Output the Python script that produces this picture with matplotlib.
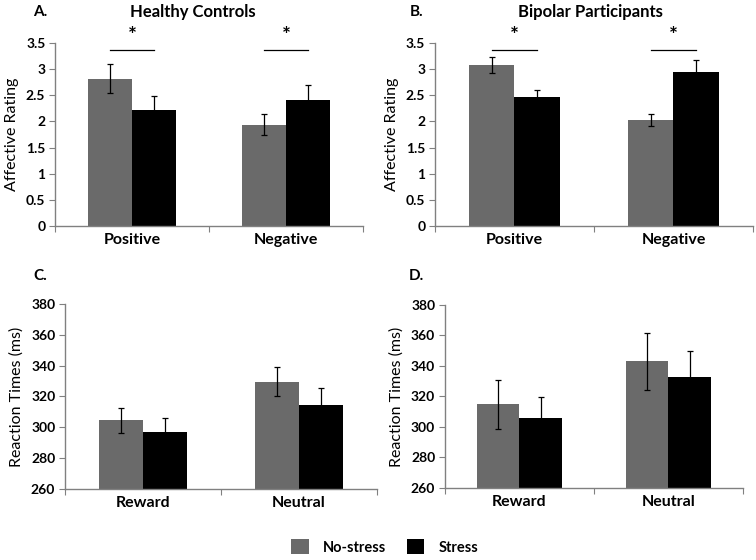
import numpy as np
import matplotlib.pyplot as plt
from matplotlib.patches import Patch
from matplotlib.ticker import FormatStrFormatter

plt.rcParams['font.family'] = ['Lato', 'DejaVu Sans']

# data
affect_cats = ['Positive', 'Negative']
rt_cats = ['Reward', 'Neutral']

hc_nostress = [2.82, 1.94]
hc_nostress_err = [0.28, 0.20]
hc_stress = [2.22, 2.41]
hc_stress_err = [0.27, 0.28]

bp_nostress = [3.08, 2.03]
bp_nostress_err = [0.15, 0.12]
bp_stress = [2.47, 2.95]
bp_stress_err = [0.14, 0.23]

hc_rt_nostress = [304.5, 329.5]
hc_rt_nostress_err = [8.0, 9.5]
hc_rt_stress = [297.0, 314.5]
hc_rt_stress_err = [9.0, 11.0]

bp_rt_nostress = [315.0, 343.0]
bp_rt_nostress_err = [16.0, 18.5]
bp_rt_stress = [306.0, 332.5]
bp_rt_stress_err = [13.5, 17.0]

GRAY = '#6a6a6a'
BLACK = '#000000'
AXC = '#808080'
W = 0.285

fig = plt.figure(figsize=(7.56, 5.6), dpi=100)


def panel(rect, cats, ns, nse, st, ste, ylim, step, ylabel):
    ax = fig.add_axes(rect)
    x = np.arange(len(cats))
    ax.bar(x - W / 2, ns, W, color=GRAY, edgecolor='none', zorder=2)
    ax.bar(x + W / 2, st, W, color=BLACK, edgecolor='none', zorder=2)
    ax.errorbar(x - W / 2, ns, yerr=nse, fmt='none', ecolor='black', elinewidth=0.9, capsize=2.5, capthick=0.9, zorder=3)
    ax.errorbar(x + W / 2, st, yerr=ste, fmt='none', ecolor='black', elinewidth=0.9, capsize=2.5, capthick=0.9, zorder=1)
    ax.set_xlim(-0.5, len(cats) - 0.5)
    ax.set_ylim(*ylim)
    ax.set_yticks(np.arange(ylim[0], ylim[1] + step / 2, step))
    ax.yaxis.set_major_formatter(FormatStrFormatter('%g'))
    ax.set_xticks(np.arange(-0.5, len(cats), 1.0))
    ax.set_xticklabels([])
    ax.set_xticks(x, minor=True)
    ax.set_xticklabels(cats, minor=True, fontsize=11.5, fontweight='bold')
    ax.tick_params(axis='x', which='minor', length=0, pad=5)
    ax.tick_params(axis='x', which='major', length=4, color=AXC, direction='out')
    ax.tick_params(axis='y', length=4, color=AXC, direction='out', labelsize=10, pad=3)
    for lab in ax.get_yticklabels():
        lab.set_fontweight('bold')
    for s in ['top', 'right']:
        ax.spines[s].set_visible(False)
    for s in ['left', 'bottom']:
        ax.spines[s].set_color(AXC)
        ax.spines[s].set_linewidth(1.0)
    ax.set_ylabel(ylabel, fontsize=11.5, labelpad=5)
    return ax


def stars(ax, x, y):
    for xi in x:
        ax.plot([xi - W / 2, xi + W / 2], [y, y], color='black', lw=0.9, clip_on=False)
        ax.text(xi, y + 0.08, '*', ha='center', va='bottom', fontsize=15, fontweight='bold', clip_on=False)


axA = panel([0.0728, 0.5964, 0.4075, 0.3268], affect_cats, hc_nostress, hc_nostress_err,
            hc_stress, hc_stress_err, (0, 3.5), 0.5, 'Affective Rating')
axB = panel([0.5754, 0.5964, 0.4206, 0.3268], affect_cats, bp_nostress, bp_nostress_err,
            bp_stress, bp_stress_err, (0, 3.5), 0.5, 'Affective Rating')
axC = panel([0.0860, 0.1268, 0.4127, 0.3304], rt_cats, hc_rt_nostress, hc_rt_nostress_err,
            hc_rt_stress, hc_rt_stress_err, (260, 380), 20, 'Reaction Times (ms)')
axD = panel([0.5886, 0.1286, 0.3942, 0.3268], rt_cats, bp_rt_nostress, bp_rt_nostress_err,
            bp_rt_stress, bp_rt_stress_err, (260, 380), 20, 'Reaction Times (ms)')

stars(axA, [0, 1], 3.37)
stars(axB, [0, 1], 3.37)

fig.text(33 / 756, 1 - 12 / 560, 'A.', fontsize=11, fontweight='bold', va='center')
fig.text(193 / 756, 1 - 12 / 560, 'Healthy Controls', fontsize=12, fontweight='bold', ha='center', va='center')
fig.text(410 / 756, 1 - 12 / 560, 'B.', fontsize=11, fontweight='bold', va='center')
fig.text(590 / 756, 1 - 12 / 560, 'Bipolar Participants', fontsize=12, fontweight='bold', ha='center', va='center')
fig.text(33 / 756, 1 - 276 / 560, 'C.', fontsize=11, fontweight='bold', va='center')
fig.text(409 / 756, 1 - 276 / 560, 'D.', fontsize=11, fontweight='bold', va='center')

handles = [Patch(facecolor=GRAY, edgecolor='none', label='No-stress'),
           Patch(facecolor=BLACK, edgecolor='none', label='Stress')]
fig.legend(handles=handles, loc='center', bbox_to_anchor=(385 / 756, 1 - 547 / 560), ncol=2, frameon=False,
           prop={'weight': 'bold', 'size': 10.5}, handlelength=1.2, handleheight=1.2, columnspacing=1.4,
           handletextpad=1.0, borderpad=0.0)

fig.savefig('out.png', dpi=100)
